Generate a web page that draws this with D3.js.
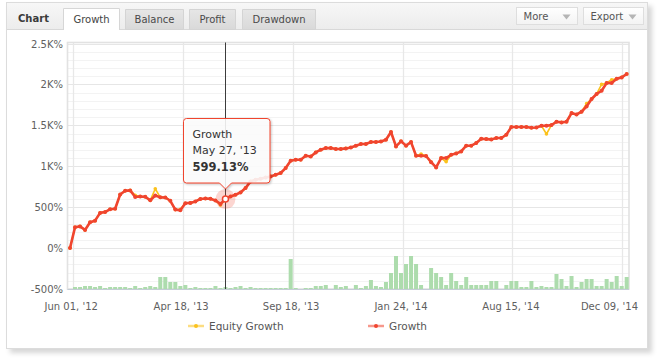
<!DOCTYPE html>
<html><head><meta charset="utf-8">
<script src="https://cdn.jsdelivr.net/npm/d3@7"></script>
<style>
body{margin:0;background:#fff;}
svg{display:block;font-family:"DejaVu Sans",Verdana,sans-serif;}
</style></head><body>
<svg id="c" width="657" height="358"></svg>
<script>
// ---------- DATA ----------
const growth = [0,255,265,222,315,335,430,440,475,480,
655,700,705,625,630,628,583,643,620,618,
578,470,462,548,552,570,600,605,602,582,
540,599.13,631,652,680,733,815,835,847,863,
876,896,917,978,1067,1079,1079,1128,1120,1169,
1202,1222,1222,1210,1210,1218,1230,1251,1271,1271,
1296,1296,1303,1324,1418,1242,1305,1252,1295,1128,
1128,1125,1050,985,1100,1100,1141,1157,1181,1251,
1251,1283,1336,1332,1328,1345,1345,1385,1479,1479,
1479,1479,1471,1474,1495,1495,1503,1544,1536,1544,
1650,1633,1666,1731,1822,1883,1923,2017,2017,2070,
2086,2127];
const equity = [0,255,265,222,315,335,430,440,475,480,
655,700,705,645,630,628,583,725,620,618,
578,470,475,548,552,570,600,605,602,582,
525,599.13,631,652,680,733,815,835,847,863,
876,896,917,978,1067,1079,1079,1128,1120,1169,
1202,1222,1222,1210,1210,1218,1230,1251,1271,1271,
1296,1296,1303,1324,1418,1242,1305,1252,1295,1128,
1150,1125,1050,985,1100,1055,1141,1157,1181,1251,
1251,1283,1336,1332,1328,1345,1345,1385,1479,1479,
1479,1479,1471,1474,1495,1394,1503,1544,1536,1544,
1650,1633,1666,1765,1822,1883,2000,2017,2057,2070,
2086,2127];
const activity = [0,2,2,3,3,2,3,1,2,2,
2,2,1,3,1,2,3,2,12,12,
7,7,3,4,1,2,1,1,1,3,
1,2,1,2,3,1,2,1,1,1,
1,1,1,1,30,1,0,1,1,3,
3,4,0,4,2,3,0,4,1,3,
9,3,2,7,16,33,16,25,33,25,
4,0,21,16,12,4,16,8,4,12,
4,4,4,4,8,8,0,4,8,8,
2,2,8,2,3,2,2,15,10,3,
13,2,7,10,10,3,3,10,7,13,
3,12];
const xTickPos = [0.54, 22.46, 44.38, 66.3, 88.22, 110.14];
const xTickLabels = ["Jun 01, '12","Apr 18, '13","Sep 18, '13","Jan 24, '14","Aug 15, '14","Dec 09, '14"];
const yTicks = [-500,0,500,1000,1500,2000,2500];
const yTickLabels = ["-500%","0%","500%","1K%","1.5K%","2K%","2.5K%"];
const tabs = ["Growth","Balance","Profit","Drawdown"];
const buttons = ["More","Export"];
const legendItems = ["Equity Growth","Growth"];
const hoverIndex = 31;
const hoverDate = "May 27, '13";
const hoverSeries = "Growth";

// ---------- STYLE ----------
const RED = "#f0452f", YEL = "#fbc21d", BAR = "#addcad";

const svg = d3.select("#c");
const defs = svg.append("defs");
const f = defs.append("filter").attr("id","sh").attr("x","-5%").attr("y","-5%").attr("width","115%").attr("height","115%");
f.append("feDropShadow").attr("dx",4).attr("dy",4).attr("stdDeviation",2.5).attr("flood-color","#000").attr("flood-opacity",0.16);
const f2 = defs.append("filter").attr("id","tsh").attr("x","-20%").attr("y","-20%").attr("width","140%").attr("height","140%");
f2.append("feDropShadow").attr("dx",1).attr("dy",1).attr("stdDeviation",1.2).attr("flood-color","#000").attr("flood-opacity",0.25);
function grad(id, c1, c2){
  const g = defs.append("linearGradient").attr("id",id).attr("x1",0).attr("y1",0).attr("x2",0).attr("y2",1);
  g.append("stop").attr("offset","0%").attr("stop-color",c1);
  g.append("stop").attr("offset","100%").attr("stop-color",c2);
}
grad("hdr","#f7f7f7","#ececec");
grad("tabOff","#e6e6e6","#d9d9d9");
grad("tabOn","#ffffff","#ffffff");
grad("btn","#ffffff","#f3f3f3");

// panel
svg.append("rect").attr("x",6.5).attr("y",2.5).attr("width",641).attr("height",346)
  .attr("fill","#fff").attr("stroke","#dcdcdc").attr("filter","url(#sh)");
svg.append("rect").attr("x",7).attr("y",3).attr("width",640).attr("height",26.5).attr("fill","url(#hdr)");
svg.append("line").attr("x1",7).attr("x2",647).attr("y1",29.5).attr("y2",29.5).attr("stroke","#d8d8d8");

svg.append("text").attr("x",18).attr("y",22).attr("font-size",10).attr("font-weight","bold")
  .attr("fill","#3a3a3a").text("Chart");

const tabX = [63.5,125.5,189.5,242.5], tabW = [56,58,46,73];
tabs.forEach((t,i)=>{
  const on = i===0;
  const top = on ? 8.5 : 9.5;
  const g = svg.append("g");
  g.append("path")
    .attr("d",`M${tabX[i]},${on?30:29.5}V${top}H${tabX[i]+tabW[i]}V${on?30:29.5}`+(on?"":"Z"))
    .attr("fill", on ? "#fff" : "url(#tabOff)")
    .attr("stroke", on ? "#d6d6d6" : "#d4d4d4");
  g.append("text").attr("x",tabX[i]+tabW[i]/2).attr("y",23).attr("text-anchor","middle")
    .attr("font-size",10).attr("fill", on ? "#444" : "#4a4a4a").text(t);
});

const btnX = [516.5,583.5], btnW = [61,60];
buttons.forEach((b,i)=>{
  svg.append("rect").attr("x",btnX[i]).attr("y",7.5).attr("width",btnW[i]).attr("height",17)
    .attr("fill","url(#btn)").attr("stroke","#dedede");
  svg.append("text").attr("x",btnX[i]+7).attr("y",19.5).attr("font-size",10).attr("fill","#555").text(b);
  const tx = btnX[i]+btnW[i]-11;
  svg.append("path").attr("d",`M${tx-4},14.5H${tx+4}L${tx},19.5Z`).attr("fill","#b5b5b5");
});

// ---------- SCALES ----------
const n = growth.length;
const x = d3.scaleLinear().domain([0,n-1]).range([70,626.7]);
const y = d3.scaleLinear().domain([-500,2500]).range([289,43.5]);
const yBar = d3.scaleLinear().domain([0,245.5]).range([289,43.5]);
const plotL = 67.5, plotR = 629, plotT = 42.5, plotB = 289;

// minor grid
const g = svg.append("g");
d3.range(-400,2500,100).filter(v=>v%500!==0).forEach(v=>{
  g.append("line").attr("x1",plotL).attr("x2",plotR).attr("y1",Math.round(y(v))+0.5).attr("y2",Math.round(y(v))+0.5)
   .attr("stroke","#f3f3f3");
});
yTicks.forEach(v=>{
  g.append("line").attr("x1",plotL).attr("x2",plotR).attr("y1",Math.round(y(v))+0.5).attr("y2",Math.round(y(v))+0.5)
   .attr("stroke","#e6e6e6");
});
xTickPos.forEach(p=>{
  g.append("line").attr("x1",Math.round(x(p))+0.5).attr("x2",Math.round(x(p))+0.5).attr("y1",plotT).attr("y2",plotB)
   .attr("stroke","#e8e8e8").attr("stroke-width",1.3);
});
// plot border
g.append("rect").attr("x",plotL).attr("y",plotT).attr("width",plotR-plotL).attr("height",plotB-plotT)
  .attr("fill","none").attr("stroke","#e2e2e2").attr("stroke-width",1.6);

// y labels
const ya = svg.append("g");
yTicks.forEach((v,i)=>{
  ya.append("text").attr("x",63).attr("y",y(v)+4).attr("text-anchor","end")
    .attr("font-size",10).attr("fill","#606060").text(yTickLabels[i]);
});
// x labels
xTickPos.forEach((p,i)=>{
  const cx = x(p)-1.5;
  const t = svg.append("text").attr("y",309.5).attr("font-size",10).attr("fill","#606060").text(xTickLabels[i]);
  const w = t.node().getComputedTextLength();
  if (cx + w/2 > 638) t.attr("x",638).attr("text-anchor","end");
  else t.attr("x",cx).attr("text-anchor","middle");
});

// bars
svg.append("g").selectAll("rect").data(activity.map((v,i)=>({v,i})).filter(d=>d.v>0)).join("rect")
  .attr("x",d=>x(d.i)-2).attr("width",4)
  .attr("y",d=>yBar(d.v)).attr("height",d=>plotB-yBar(d.v))
  .attr("fill",BAR);

// x axis line
svg.append("line").attr("x1",plotL).attr("x2",plotR).attr("y1",289.5).attr("y2",289.5).attr("stroke","#c4cdd6");

// crosshair
svg.append("line").attr("x1",Math.round(x(hoverIndex))+0.5).attr("x2",Math.round(x(hoverIndex))+0.5)
  .attr("y1",plotT).attr("y2",plotB).attr("stroke","#3c3c3c");

// lines
const line = d3.line().x((d,i)=>x(i)).y(d=>y(d));
svg.append("path").datum(equity).attr("d",line).attr("fill","none").attr("stroke",YEL).attr("stroke-width",1.6).attr("stroke-linejoin","round");
svg.append("g").selectAll("circle").data(equity).join("circle")
  .attr("cx",(d,i)=>x(i)).attr("cy",d=>y(d)).attr("r",1.8).attr("fill",YEL);
svg.append("path").datum(growth).attr("d",line).attr("fill","none").attr("stroke",RED).attr("stroke-width",2.6).attr("stroke-linejoin","round");
svg.append("g").selectAll("circle").data(growth).join("circle")
  .attr("cx",(d,i)=>x(i)).attr("cy",d=>y(d)).attr("r",2).attr("fill",RED);

// hover marker
const hx = x(hoverIndex), hy = y(growth[hoverIndex]);
svg.append("circle").attr("cx",hx).attr("cy",hy).attr("r",10).attr("fill",RED).attr("opacity",0.22);
svg.append("circle").attr("cx",hx).attr("cy",hy).attr("r",3).attr("fill","#fff").attr("stroke",RED).attr("stroke-width",1.5);

// tooltip
const bl = Math.round(hx)-41.5, br = Math.round(hx)+45, bt = Math.round(hy)-80.5, bb = Math.round(hy)-16, r = 3;
const px = Math.round(hx)+0.5;
const tp = `M${bl+r},${bt}H${br-r}Q${br},${bt} ${br},${bt+r}V${bb-r}Q${br},${bb} ${br-r},${bb}`+
  `H${px+6}L${px},${bb+6}L${px-6},${bb}H${bl+r}Q${bl},${bb} ${bl},${bb-r}V${bt+r}Q${bl},${bt} ${bl+r},${bt}Z`;
svg.append("path").attr("d",tp).attr("fill","rgba(255,255,255,0.86)").attr("stroke",RED).attr("stroke-width",1)
  .attr("filter","url(#tsh)");
svg.append("text").attr("x",bl+9).attr("y",bt+19.5).attr("font-size",11).attr("fill","#333").text(hoverSeries);
svg.append("text").attr("x",bl+9).attr("y",bt+35.5).attr("font-size",11).attr("fill","#333").text(hoverDate);
svg.append("text").attr("x",bl+9).attr("y",bt+52).attr("font-size",11.5).attr("font-weight","bold").attr("fill","#333")
  .text(d3.format(".2f")(growth[hoverIndex])+"%");

// legend
const legX = [188,368], legC = [YEL,RED];
legendItems.forEach((t,i)=>{
  svg.append("line").attr("x1",legX[i]).attr("x2",legX[i]+16).attr("y1",326).attr("y2",326)
    .attr("stroke",legC[i]).attr("stroke-width",2.5).attr("opacity",0.55);
  svg.append("circle").attr("cx",legX[i]+8).attr("cy",326).attr("r",2).attr("fill",legC[i]);
  svg.append("text").attr("x",legX[i]+21).attr("y",330).attr("font-size",10.5).attr("fill","#555").text(t);
});
</script>
</body></html>
